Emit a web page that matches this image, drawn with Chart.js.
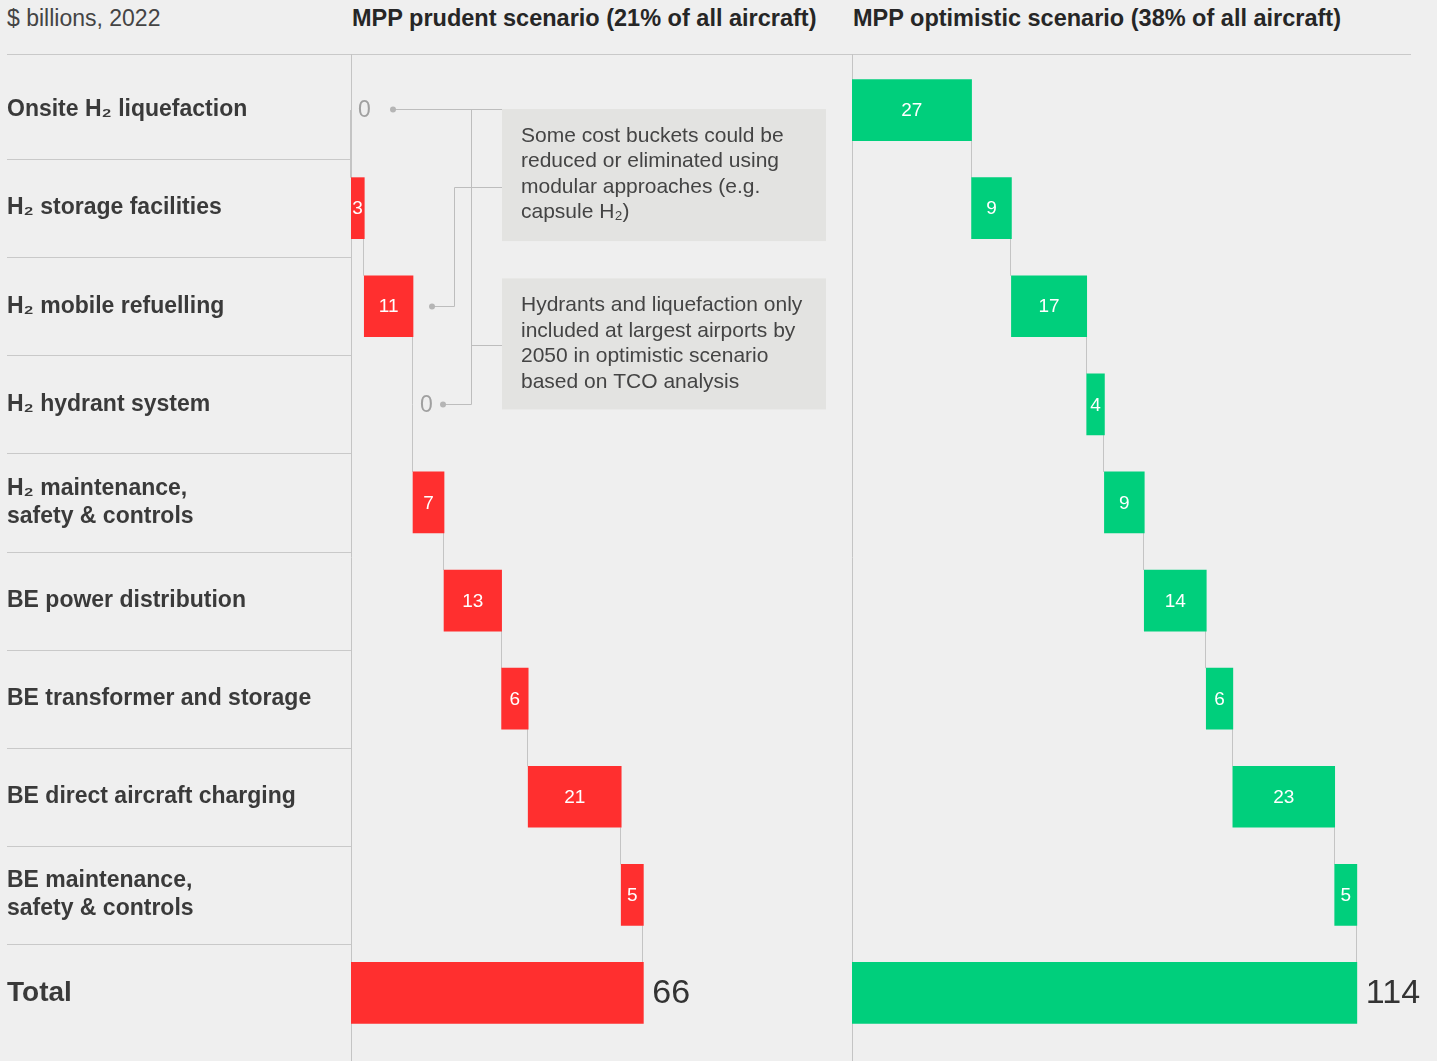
<!DOCTYPE html>
<html>
<head>
<meta charset="utf-8">
<script src="https://cdn.jsdelivr.net/npm/chart.js@4/dist/chart.umd.min.js"></script>
<style>
  body { margin: 0; background: #efefef; }
  #wrap { position: relative; width: 1437px; height: 1061px; overflow: hidden; }
  .hd { position: absolute; top: 5px; font: 23px "Liberation Sans", Arial, sans-serif; color: #444; white-space: nowrap; }
  .hd.b { font-size: 23.5px; font-weight: bold; color: #262626; }
  .rule { position: absolute; left: 7px; top: 54px; width: 1404px; height: 1px; background: #c9c9c9; }
  canvas { position: absolute; top: 0; }
</style>
</head>
<body>
<div id="wrap">
  <div class="hd" style="left:7px">$ billions, 2022</div>
  <div class="hd b" style="left:352px">MPP prudent scenario (21% of all aircraft)</div>
  <div class="hd b" style="left:853px">MPP optimistic scenario (38% of all aircraft)</div>
  <div class="rule"></div>
  <canvas id="prudent" style="left:0"></canvas>
  <canvas id="optimistic" style="left:852px"></canvas>
</div>
<script>
// cost buckets, $ billions (2022)
const categories = [
  'Onsite H₂ liquefaction',
  'H₂ storage facilities',
  'H₂ mobile refuelling',
  'H₂ hydrant system',
  ['H₂ maintenance,', 'safety & controls'],
  'BE power distribution',
  'BE transformer and storage',
  'BE direct aircraft charging',
  ['BE maintenance,', 'safety & controls'],
  'Total'
];
const prudent = [0, 3, 11, 0, 7, 13, 6, 21, 5];
const optimistic = [27, 9, 17, 4, 9, 14, 6, 23, 5];

const noteModular = ['Some cost buckets could be', 'reduced or eliminated using', 'modular approaches (e.g.', 'capsule H₂)'];
const noteHydrant = ['Hydrants and liquefaction only', 'included at largest airports by', '2050 in optimistic scenario', 'based on TCO analysis'];

const RED = '#ff2f2f', GREEN = '#00cf7c';
const LINE = '#c4c4c4';
const SANS = '"Liberation Sans", Arial, sans-serif';

// running totals -> floating bars, total appended at the end
function steps(vals) {
  let run = 0;
  const out = vals.map(v => { const s = [run, run + v]; run += v; return s; });
  out.push([0, run]);
  return out;
}

const waterfall = {
  id: 'waterfall',
  beforeDatasetsDraw(chart) {
    const { ctx, chartArea: a } = chart;
    const x = chart.scales.x, y = chart.scales.y;
    const data = chart.data.datasets[0].data;
    const bars = chart.getDatasetMeta(0).data;
    ctx.save();
    ctx.strokeStyle = LINE; ctx.lineWidth = 1;
    // left axis line of the panel
    ctx.beginPath();
    ctx.moveTo(Math.round(a.left) + 0.5, 54); ctx.lineTo(Math.round(a.left) + 0.5, 1061);
    ctx.stroke();
    // row separators in the label column
    if (chart.options.plugins.waterfall.rows) {
      ctx.strokeStyle = '#c9c9c9';
      for (let k = 1; k < categories.length; k++) {
        const yy = Math.round((y.getPixelForValue(k - 1) + y.getPixelForValue(k)) / 2) + 0.5;
        ctx.beginPath(); ctx.moveTo(7, yy); ctx.lineTo(a.left, yy); ctx.stroke();
      }
    }
    // step connectors
    ctx.strokeStyle = LINE;
    for (let i = 0; i < data.length - 1; i++) {
      const b0 = bars[i].getProps(['y', 'height'], true);
      const b1 = bars[i + 1].getProps(['y', 'height'], true);
      const h0 = data[i][1] - data[i][0] ? b0.height / 2 : 0;
      const h1 = data[i + 1][1] - data[i + 1][0] ? b1.height / 2 : 0;
      const xx = Math.round(x.getPixelForValue(data[i][1])) - 0.5;
      ctx.beginPath(); ctx.moveTo(xx, b0.y + h0); ctx.lineTo(xx, b1.y - h1); ctx.stroke();
    }
    ctx.restore();
  },
  afterDatasetsDraw(chart) {
    const { ctx } = chart;
    const x = chart.scales.x;
    const data = chart.data.datasets[0].data;
    const bars = chart.getDatasetMeta(0).data;
    ctx.save();
    ctx.textBaseline = 'middle';
    data.forEach((d, i) => {
      const v = d[1] - d[0];
      const yy = bars[i].getProps(['y'], true).y;
      const x0 = x.getPixelForValue(d[0]), x1 = x.getPixelForValue(d[1]);
      if (i === data.length - 1) {
        ctx.fillStyle = '#333'; ctx.font = '34px ' + SANS; ctx.textAlign = 'left';
        ctx.fillText(String(v), x1 + 9, yy + 1);
      } else if (v === 0) {
        ctx.fillStyle = '#a0a0a0'; ctx.font = '23px ' + SANS; ctx.textAlign = 'left';
        ctx.fillText('0', x0 + 7, yy + 1);
      } else {
        ctx.fillStyle = '#fff'; ctx.font = '19px ' + SANS; ctx.textAlign = 'center';
        ctx.fillText(String(v), (x0 + x1) / 2, yy + 1);
      }
    });
    ctx.restore();
  }
};

// callout boxes and leader lines on the prudent panel
const callouts = {
  id: 'callouts',
  afterDraw(chart) {
    const { ctx } = chart;
    const x = chart.scales.x, y = chart.scales.y;
    const d = chart.data.datasets[0].data;
    const r0 = y.getPixelForValue(0), r2 = y.getPixelForValue(2), r3 = y.getPixelForValue(3);
    const boxL = 502, boxR = 826, trunk = 471.5;
    const b1 = { top: r0 - 1, bottom: r0 + 131 };
    const b2 = { top: r3 - 126, bottom: r3 + 5 };
    ctx.save();
    ctx.fillStyle = '#e3e3e1';
    ctx.fillRect(boxL, b1.top, boxR - boxL, b1.bottom - b1.top);
    ctx.fillRect(boxL, b2.top, boxR - boxL, b2.bottom - b2.top);

    const dot1 = { x: x.getPixelForValue(d[0][0]) + 42, y: Math.round(r0) - 0.5 };
    const dot4 = { x: x.getPixelForValue(d[3][0]) + 30, y: Math.round(r3) + 0.5 };
    const dot3 = { x: x.getPixelForValue(d[2][1]) + 19, y: Math.round(r2) + 0.5 };
    ctx.strokeStyle = '#bdbdbd'; ctx.lineWidth = 1;
    ctx.beginPath();
    ctx.moveTo(dot1.x, dot1.y); ctx.lineTo(boxL, dot1.y);
    ctx.moveTo(trunk, dot1.y); ctx.lineTo(trunk, dot4.y); ctx.lineTo(dot4.x, dot4.y);
    ctx.moveTo(trunk, Math.round(b2.top + 67) + 0.5); ctx.lineTo(boxL, Math.round(b2.top + 67) + 0.5);
    const elbow = 454.5, joinY = Math.round(b1.top + 78) + 0.5;
    ctx.moveTo(dot3.x, dot3.y); ctx.lineTo(elbow, dot3.y); ctx.lineTo(elbow, joinY); ctx.lineTo(boxL, joinY);
    ctx.stroke();
    ctx.fillStyle = '#b5b5b5';
    [dot1, dot4, dot3].forEach(p => { ctx.beginPath(); ctx.arc(p.x, p.y, 3, 0, Math.PI * 2); ctx.fill(); });

    ctx.fillStyle = '#444'; ctx.font = '21px ' + SANS;
    ctx.textAlign = 'left'; ctx.textBaseline = 'middle';
    noteModular.forEach((t, i) => ctx.fillText(t, 521, b1.top + 27 + i * 25.5));
    noteHydrant.forEach((t, i) => ctx.fillText(t, 521, b2.top + 27 + i * 25.5));
    ctx.restore();
  }
};

function waterfallChart(id, vals, color, o) {
  const el = document.getElementById(id);
  el.width = o.width; el.height = 1061;
  el.style.width = o.width + 'px'; el.style.height = '1061px';
  return new Chart(el, {
    type: 'bar',
    data: {
      labels: categories,
      datasets: [{
        data: steps(vals),
        backgroundColor: c => (c.raw && c.raw[1] - c.raw[0]) ? color : 'rgba(0,0,0,0)',
        barThickness: 61, borderWidth: 0, borderSkipped: false
      }]
    },
    options: {
      indexAxis: 'y',
      animation: false, responsive: false, maintainAspectRatio: false,
      layout: { padding: { top: 61, bottom: 19, left: o.labels ? 7 : 0, right: 0 } },
      plugins: {
        legend: { display: false }, tooltip: { enabled: false },
        waterfall: { rows: o.labels }
      },
      scales: {
        x: { type: 'linear', display: false, min: 0, max: o.max },
        y: {
          display: o.labels,
          grid: { display: false }, border: { display: false },
          afterFit: s => { s.width = o.labels ? 344 : 0; },
          ticks: {
            crossAlign: 'far', color: '#3a3a3a', autoSkip: false,
            font: c => c.index === categories.length - 1
              ? { family: SANS, size: 28, weight: 'bold' }
              : { family: SANS, size: 23, weight: 'bold', lineHeight: 1.22 }
          }
        }
      }
    },
    plugins: o.labels ? [waterfall, callouts] : [waterfall]
  });
}

waterfallChart('prudent', prudent, RED, { width: 852, max: 113.1, labels: true });
waterfallChart('optimistic', optimistic, GREEN, { width: 585, max: 132.1, labels: false });
</script>
</body>
</html>
